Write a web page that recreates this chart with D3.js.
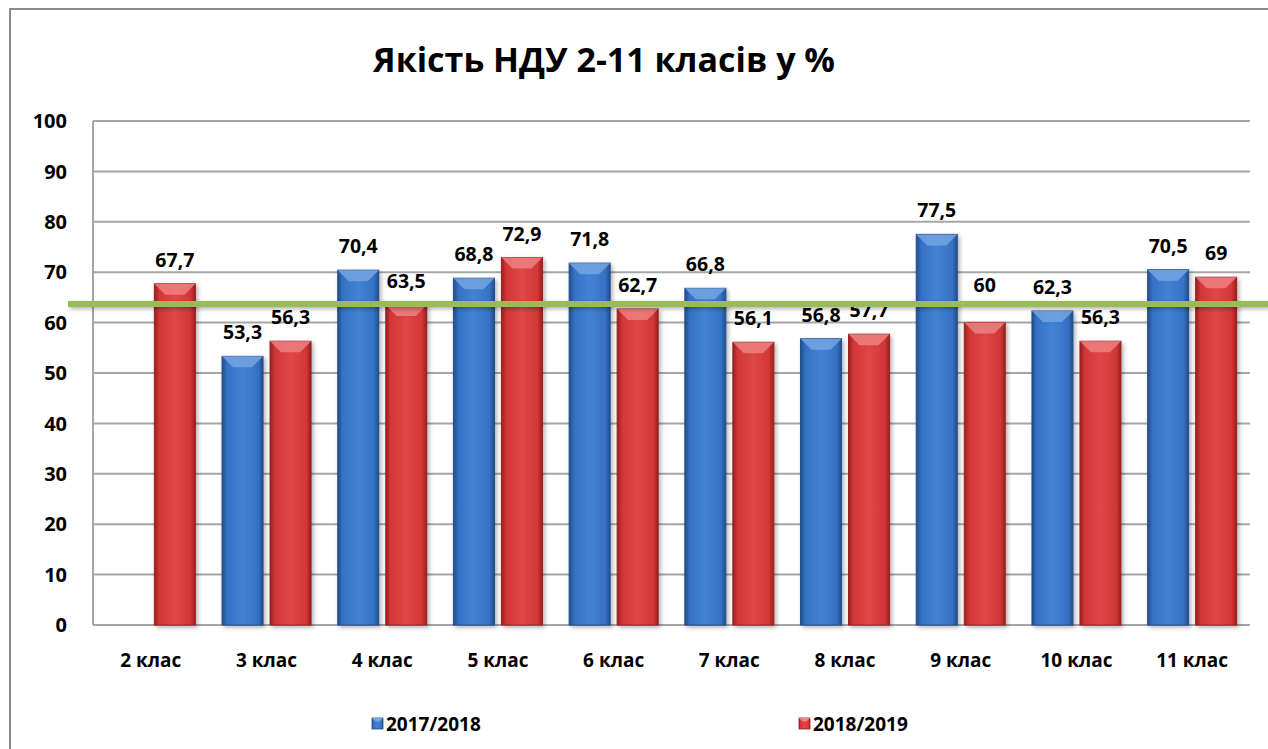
<!DOCTYPE html>
<html>
<head>
<meta charset="utf-8">
<script src="https://cdn.jsdelivr.net/npm/d3@7"></script>
<style>
  body { margin: 0; background: #fff; }
  svg { display: block; }
  text { font-family: 'Open Sans', Lato, sans-serif; font-weight: bold; fill: #000; }
</style>
</head>
<body>
<div id="app"></div>
<script>
const categories = ['2 клас', '3 клас', '4 клас', '5 клас', '6 клас', '7 клас', '8 клас', '9 клас', '10 клас', '11 клас'];
const seriesNames = ['2017/2018', '2018/2019'];
const values2017 = [null, 53.3, 70.4, 68.8, 71.8, 66.8, 56.8, 77.5, 62.3, 70.5];
const values2018 = [67.7, 56.3, 63.5, 72.9, 62.7, 56.1, 57.7, 60, 56.3, 69];
const yTicks = [0, 10, 20, 30, 40, 50, 60, 70, 80, 90, 100];
const avgValue = 63.7;
const title = 'Якість НДУ 2-11 класів у %';

const svg = d3.select('#app').append('svg')
  .attr('width', 1268)
  .attr('height', 749);

const plot = { left: 93, right: 1250, top: 121, bottom: 625 };

// the "60" label was dragged above the green line in the original
const labelNudge = { '9 клас|2018/2019': -14 };

const defs = svg.append('defs');

const palette = {
  '2017/2018': { edge: '#234d8a', mid: '#3571c4', light: '#4483d3', bevel: '#74a4e3' },
  '2018/2019': { edge: '#97211f', mid: '#d33637', light: '#de4747', bevel: '#ee8080' }
};

seriesNames.forEach((s, i) => {
  const p = palette[s];
  const grad = defs.append('linearGradient')
    .attr('id', `body${i}`)
    .attr('x1', 0).attr('x2', 1).attr('y1', 0).attr('y2', 0);
  grad.append('stop').attr('offset', '0%').attr('stop-color', p.edge);
  grad.append('stop').attr('offset', '12%').attr('stop-color', p.mid);
  grad.append('stop').attr('offset', '50%').attr('stop-color', p.light);
  grad.append('stop').attr('offset', '88%').attr('stop-color', p.mid);
  grad.append('stop').attr('offset', '100%').attr('stop-color', p.edge);
});

const shadow = defs.append('filter').attr('id', 'shadow')
  .attr('filterUnits', 'userSpaceOnUse')
  .attr('x', 0).attr('y', 0).attr('width', 1268).attr('height', 749);
shadow.append('feDropShadow')
  .attr('dx', 2).attr('dy', 2).attr('stdDeviation', 2)
  .attr('flood-color', '#000').attr('flood-opacity', 0.3);

// outer chart frame
svg.append('rect')
  .attr('x', 10).attr('y', 9)
  .attr('width', 1275).attr('height', 760)
  .attr('fill', '#fff')
  .attr('stroke', '#8c8c8c')
  .attr('stroke-width', 2);

const x = d3.scaleBand()
  .domain(categories)
  .range([plot.left, plot.right]);

const x1 = d3.scaleBand()
  .domain(seriesNames)
  .range([0, x.bandwidth()])
  .paddingInner(0.146)
  .paddingOuter(0.278);

const y = d3.scaleLinear()
  .domain([0, 100])
  .range([plot.bottom, plot.top]);

// grid
svg.append('g')
  .selectAll('line')
  .data(yTicks)
  .enter().append('line')
    .attr('x1', plot.left)
    .attr('x2', plot.right)
    .attr('y1', d => y(d))
    .attr('y2', d => y(d))
    .attr('stroke', '#a6a6a6')
    .attr('stroke-width', 2);

svg.append('line')
  .attr('x1', plot.left).attr('x2', plot.left)
  .attr('y1', y(100)).attr('y2', y(0))
  .attr('stroke', '#a6a6a6')
  .attr('stroke-width', 2);

// y tick labels
svg.append('g')
  .selectAll('text')
  .data(yTicks)
  .enter().append('text')
    .attr('x', 67)
    .attr('y', d => y(d))
    .attr('dy', '0.36em')
    .attr('text-anchor', 'end')
    .attr('font-size', 20)
    .text(d => d);

// bars
const rows = categories.map((c, i) => ({
  cat: c,
  items: [
    { cat: c, key: seriesNames[0], idx: 0, value: values2017[i] },
    { cat: c, key: seriesNames[1], idx: 1, value: values2018[i] }
  ].filter(d => d.value != null)
}));

const bars = svg.append('g')
  .selectAll('g')
  .data(rows)
  .enter().append('g')
    .attr('transform', d => `translate(${x(d.cat)},0)`)
  .selectAll('g')
  .data(d => d.items)
  .enter().append('g')
    .attr('filter', 'url(#shadow)');

bars.append('rect')
  .attr('x', d => x1(d.key))
  .attr('y', d => y(d.value))
  .attr('width', x1.bandwidth())
  .attr('height', d => y(0) - y(d.value))
  .attr('fill', d => `url(#body${d.idx})`)
  .attr('stroke', d => palette[d.key].edge)
  .attr('stroke-width', 1);

// top bevel
bars.append('path')
  .attr('d', d => {
    const x0 = x1(d.key), w = x1.bandwidth(), t = y(d.value), b = 11;
    return `M${x0},${t}L${x0 + w},${t}L${x0 + w - b},${t + b}L${x0 + b},${t + b}Z`;
  })
  .attr('fill', d => palette[d.key].bevel)
  .attr('opacity', 0.85);

// value labels
svg.append('g')
  .selectAll('g')
  .data(rows)
  .enter().append('g')
    .attr('transform', d => `translate(${x(d.cat)},0)`)
  .selectAll('text')
  .data(d => d.items)
  .enter().append('text')
    .attr('x', d => x1(d.key) + x1.bandwidth() / 2)
    .attr('y', d => y(d.value) - 17 + (labelNudge[`${d.cat}|${d.key}`] || 0))
    .attr('text-anchor', 'middle')
    .attr('font-size', 19.5)
    .text(d => String(d.value).replace('.', ','));

// green reference line (drawn over the labels, as in the source)
svg.append('line')
  .attr('x1', 68).attr('x2', 1268)
  .attr('y1', y(avgValue)).attr('y2', y(avgValue))
  .attr('stroke', '#9bbb59')
  .attr('stroke-width', 6)
  .attr('filter', 'url(#shadow)');

// category labels
svg.append('g')
  .selectAll('text')
  .data(categories)
  .enter().append('text')
    .attr('x', d => x(d) + x.bandwidth() / 2)
    .attr('y', 660)
    .attr('dy', '0.36em')
    .attr('text-anchor', 'middle')
    .attr('font-size', 19)
    .text(d => d);

// title
svg.append('text')
  .attr('x', 604)
  .attr('y', 72)
  .attr('text-anchor', 'middle')
  .attr('font-size', 34)
  .text(title);

// legend
const legendX = [372, 799];
const legend = svg.append('g')
  .selectAll('g')
  .data(seriesNames)
  .enter().append('g')
    .attr('transform', (d, i) => `translate(${legendX[i]},724)`);

legend.append('rect')
  .attr('x', 0).attr('y', -6)
  .attr('width', 11).attr('height', 11)
  .attr('fill', (d, i) => `url(#body${i})`)
  .attr('stroke', d => palette[d].edge)
  .attr('stroke-width', 0.8);

legend.append('path')
  .attr('d', 'M0,-6L11,-6L7.5,-2.5L3.5,-2.5Z')
  .attr('fill', d => palette[d].bevel);

legend.append('text')
  .attr('x', 14)
  .attr('y', 0)
  .attr('dy', '0.36em')
  .attr('font-size', 19)
  .text(d => d);
</script>
</body>
</html>
